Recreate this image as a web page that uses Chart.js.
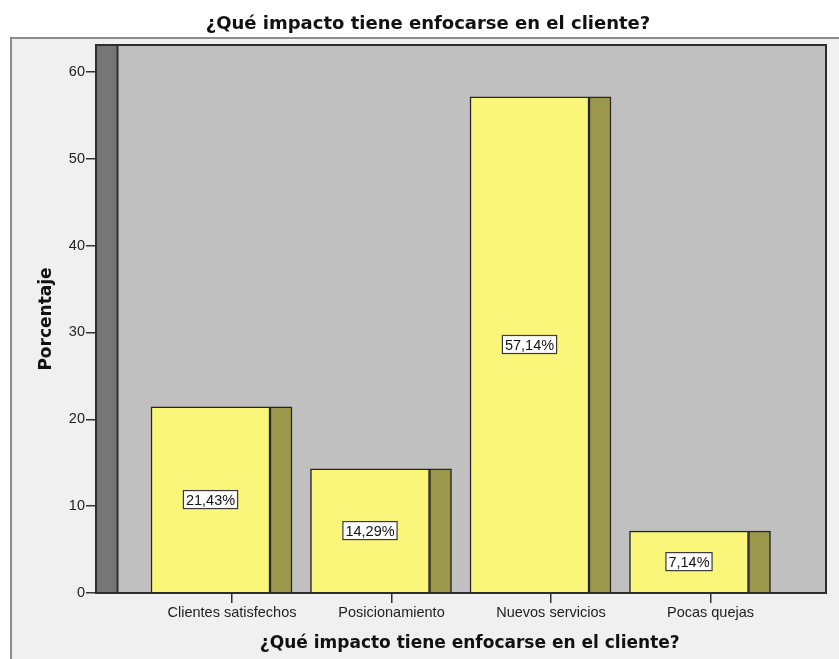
<!DOCTYPE html>
<html>
<head>
<meta charset="utf-8">
<style>
  html, body { margin: 0; padding: 0; background: #ffffff; }
  #wrap { width: 839px; height: 659px; }
</style>
<script src="https://cdn.jsdelivr.net/npm/chart.js@4.4.1/dist/chart.umd.min.js"></script>
</head>
<body>
<div id="wrap"><canvas id="chart" width="839" height="659"></canvas></div>
<script>
// ---- data ----
const chartTitle = '¿Qué impacto tiene enfocarse en el cliente?';
const xAxisTitle = '¿Qué impacto tiene enfocarse en el cliente?';
const yAxisTitle = 'Porcentaje';
const categories = ['Clientes satisfechos', 'Posicionamiento', 'Nuevos servicios', 'Pocas quejas'];
const percentages = [21.43, 14.29, 57.14, 7.14];
const yTickValues = [0, 10, 20, 30, 40, 50, 60];
const yAxisMax = 63.1;

// ---- geometry of the 3D-style panel ----
const PLOT = { left: 96, right: 826, top: 45, bottom: 593 };
const SLOT = 159.5;        // pixels between category ticks
const FIRST_TICK = 232;    // pixel of the first category tick
const DEPTH = 21.5;        // depth of the 3D effect
const FRONT_W = 119;       // front face width
const SIDE_W = 22;         // side face width
const CANVAS_W = 839, CANVAS_H = 659;

const xMin = -(FIRST_TICK - PLOT.left) / SLOT;
const xMax = xMin + (PLOT.right - PLOT.left) / SLOT;
const frontShift = DEPTH / SLOT;
const sideShift = (FRONT_W / 2 - DEPTH + SIDE_W / 2) / SLOT;

const points = percentages.map((v, i) => ({ x: i, y: v }));

const tickFont = { family: 'Liberation Sans, Arial, sans-serif', size: 14.5 };
const boldFont = (size) => ({ family: 'DejaVu Sans, Verdana, sans-serif', size, weight: 'bold' });

const fmtPct = (v) => v.toFixed(2).replace('.', ',') + '%';

const panelPlugin = {
  id: 'panel',
  beforeDraw(chart) {
    const { ctx, chartArea: a } = chart;
    ctx.save();
    ctx.fillStyle = '#ffffff';
    ctx.fillRect(0, 0, CANVAS_W, CANVAS_H);
    // outer frame
    ctx.fillStyle = '#f0f0f0';
    ctx.fillRect(11, 38, CANVAS_W, CANVAS_H);
    ctx.strokeStyle = '#8c8c8c';
    ctx.lineWidth = 2;
    ctx.strokeRect(11, 38, CANVAS_W + 10, CANVAS_H + 10);
    // plot background
    ctx.fillStyle = '#c0c0c0';
    ctx.fillRect(a.left, a.top, a.right - a.left, a.bottom - a.top);
    // back-left wall
    ctx.fillStyle = '#767676';
    ctx.fillRect(a.left, a.top, DEPTH, a.bottom - a.top);
    ctx.restore();
  },
  afterDatasetsDraw(chart) {
    const { ctx, chartArea: a } = chart;
    ctx.save();
    ctx.strokeStyle = '#2e2e2e';
    ctx.lineWidth = 2;
    ctx.beginPath();
    ctx.moveTo(a.left + DEPTH, a.top);
    ctx.lineTo(a.left + DEPTH, a.bottom);
    ctx.stroke();
    ctx.strokeRect(a.left, a.top, a.right - a.left, a.bottom - a.top);

    // value labels in the middle of each front face
    const meta = chart.getDatasetMeta(0);
    ctx.font = '14.5px "Liberation Sans", Arial, sans-serif';
    ctx.textAlign = 'center';
    ctx.textBaseline = 'middle';
    meta.data.forEach((bar, i) => {
      const text = fmtPct(percentages[i]);
      const cx = bar.x;
      const cy = (bar.y + bar.base) / 2;
      const w = ctx.measureText(text).width + 5;
      const h = 18;
      ctx.fillStyle = '#ffffff';
      ctx.fillRect(cx - w / 2, cy - h / 2, w, h);
      ctx.strokeStyle = '#3a3a3a';
      ctx.lineWidth = 1.2;
      ctx.strokeRect(cx - w / 2, cy - h / 2, w, h);
      ctx.fillStyle = '#111111';
      ctx.fillText(text, cx, cy + 1);
    });
    ctx.restore();
  },
  afterDraw(chart) {
    // category-axis title, centred over the floor of the panel (right of the wall)
    const { ctx, chartArea: a } = chart;
    ctx.save();
    ctx.font = 'bold 17px "DejaVu Sans", Verdana, sans-serif';
    ctx.fillStyle = '#111111';
    ctx.textAlign = 'center';
    ctx.textBaseline = 'middle';
    ctx.fillText(xAxisTitle, (a.left + DEPTH + a.right) / 2 - 2, 644);
    ctx.restore();
  }
};

const hiddenX = (shift) => ({
  type: 'linear',
  display: false,
  offset: false,
  grid: { offset: false },
  min: xMin + shift,
  max: xMax + shift
});

new Chart(document.getElementById('chart'), {
  type: 'bar',
  data: {
    datasets: [
      {
        label: 'Porcentaje',
        data: points,
        xAxisID: 'xFront',
        yAxisID: 'y',
        backgroundColor: '#faf67a',
        borderColor: '#262626',
        borderWidth: 1.5,
        borderSkipped: 'bottom',
        barThickness: FRONT_W,
        grouped: false
      },
      {
        label: 'lado',
        data: points,
        xAxisID: 'xSide',
        yAxisID: 'y',
        backgroundColor: '#9b974b',
        borderColor: '#262626',
        borderWidth: 1.5,
        borderSkipped: 'bottom',
        barThickness: SIDE_W,
        grouped: false
      }
    ]
  },
  options: {
    responsive: false,
    animation: false,
    devicePixelRatio: 1,
    layout: { padding: { left: 30, right: CANVAS_W - PLOT.right, top: 0, bottom: 0 } },
    plugins: {
      legend: { display: false },
      tooltip: { enabled: false },
      title: {
        display: true,
        text: chartTitle,
        color: '#111111',
        font: boldFont(18),
        padding: { top: 14, bottom: 9.4 }
      }
    },
    scales: {
      x: {
        type: 'linear',
        position: 'bottom',
        offset: false,
        min: xMin,
        max: xMax,
        afterBuildTicks: (s) => { s.ticks = categories.map((_, i) => ({ value: i })); },
        afterFit: (s) => { s.height = CANVAS_H - PLOT.bottom; },
        ticks: {
          callback: (v) => categories[v],
          font: tickFont,
          color: '#222222',
          padding: 1.5,
          maxRotation: 0,
          autoSkip: false
        },
        grid: { offset: false, drawOnChartArea: false, drawTicks: true, tickLength: 10, color: '#333333', lineWidth: 1.5 },
        border: { display: false },
        title: { display: false }
      },
      xFront: hiddenX(frontShift),
      xSide: hiddenX(-sideShift),
      y: {
        type: 'linear',
        min: 0,
        max: yAxisMax,
        afterBuildTicks: (s) => { s.ticks = yTickValues.map((v) => ({ value: v })); },
        afterFit: (s) => { s.width = PLOT.left - 30; },
        ticks: { font: tickFont, color: '#222222', padding: 1 },
        grid: { drawOnChartArea: false, drawTicks: true, tickLength: 10, color: '#333333', lineWidth: 1.5 },
        border: { display: false },
        title: {
          display: true,
          text: yAxisTitle,
          color: '#111111',
          font: boldFont(17),
          padding: { top: 6.3, bottom: 0 }
        }
      }
    }
  },
  plugins: [panelPlugin]
});
</script>
</body>
</html>
